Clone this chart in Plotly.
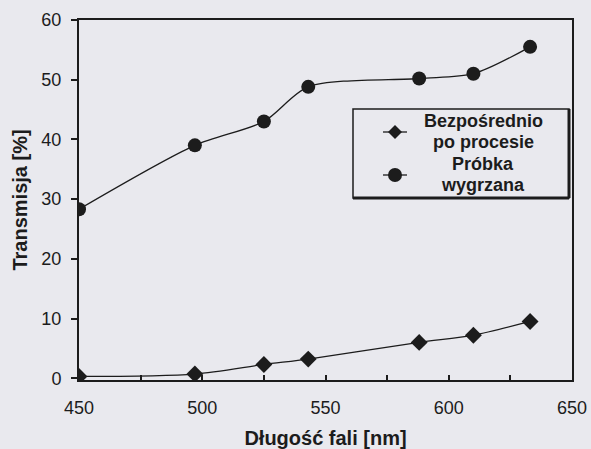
import plotly.graph_objects as go

wavelength = [450, 497, 525, 543, 588, 610, 633]
bezposrednio = [0.3, 0.7, 2.3, 3.2, 6.0, 7.2, 9.5]
wygrzana = [28.3, 39.0, 43.0, 48.8, 50.2, 51.0, 55.5]

x_ticks = [450, 500, 550, 600, 650]
y_ticks = [0, 10, 20, 30, 40, 50, 60]

legend_lines = [["Bezpośrednio", "po procesie"], ["Próbka", "wygrzana"]]

bg = "#e9e9ee"
ink = "#1c1c1c"
FONT = "Liberation Sans, Arial, sans-serif"

fig = go.Figure()
fig.add_trace(go.Scatter(
    x=wavelength, y=bezposrednio, mode="lines+markers",
    name="Bezpośrednio po procesie", showlegend=False,
    line=dict(color=ink, width=1.3, shape="spline", smoothing=0.8),
    marker=dict(symbol="diamond", size=13, color=ink),
))
fig.add_trace(go.Scatter(
    x=wavelength, y=wygrzana, mode="lines+markers",
    name="Próbka wygrzana", showlegend=False,
    line=dict(color=ink, width=1.3, shape="spline", smoothing=0.8),
    marker=dict(symbol="circle", size=14, color=ink),
))

# plot area in pixels: x 79..572, y 20..380
def px(xp):
    return (xp - 79) / 493.0

def py(yp):
    return (380 - yp) / 360.0

# ---- hand-drawn legend box (paper coordinates) ----
lx0, lx1, ly0, ly1 = px(353), px(569), py(198), py(109)
shapes = [
    dict(type="rect", xref="paper", yref="paper", x0=lx0, x1=lx1, y0=ly0, y1=ly1,
         line=dict(color=ink, width=1.5), fillcolor=bg, layer="above"),
    dict(type="line", xref="paper", yref="paper", x0=lx1, x1=lx1, y0=ly0, y1=ly1,
         line=dict(color=ink, width=3), layer="above"),
    dict(type="line", xref="paper", yref="paper", x0=lx0, x1=lx1, y0=ly0, y1=ly0,
         line=dict(color=ink, width=3), layer="above"),
]
key_x = px(395)
key_y = [py(132), py(175)]
for i, ky in enumerate(key_y):
    shapes.append(dict(type="line", xref="paper", yref="paper", xsizemode="pixel", ysizemode="pixel",
                       xanchor=key_x, yanchor=ky, x0=-12, x1=12, y0=0, y1=0,
                       line=dict(color=ink, width=1.3), layer="above"))
    if i == 0:
        shapes.append(dict(type="path", xref="paper", yref="paper", xsizemode="pixel", ysizemode="pixel",
                           xanchor=key_x, yanchor=ky, path="M -7 0 L 0 7 L 7 0 L 0 -7 Z",
                           fillcolor=ink, line=dict(color=ink, width=0), layer="above"))
    else:
        shapes.append(dict(type="circle", xref="paper", yref="paper", xsizemode="pixel", ysizemode="pixel",
                           xanchor=key_x, yanchor=ky, x0=-7, x1=7, y0=-7, y1=7,
                           fillcolor=ink, line=dict(color=ink, width=0), layer="above"))

text_x = px(483)
text_y = [[py(121), py(142)], [py(164), py(185)]]
annotations = []
for lines, ys in zip(legend_lines, text_y):
    for t, yy in zip(lines, ys):
        annotations.append(dict(text=t, xref="paper", yref="paper", x=text_x, y=yy,
                                xanchor="center", yanchor="middle", showarrow=False,
                                borderpad=0,
                                font=dict(size=18, family=FONT, color=ink, weight="bold")))

fig.update_layout(
    width=591, height=449,
    margin=dict(l=79, r=19, t=20, b=69),
    paper_bgcolor=bg, plot_bgcolor=bg,
    font=dict(family=FONT, color=ink),
    showlegend=False,
    shapes=shapes,
    annotations=annotations,
    xaxis=dict(
        range=[450, 650], tickvals=x_ticks, ticktext=[str(v) for v in x_ticks],
        ticks="inside", ticklen=5, tickwidth=1.5, tickcolor=ink,
        minor=dict(dtick=25, tick0=450, ticks="inside", ticklen=5, tickwidth=1.5, tickcolor=ink),
        showline=True, linecolor=ink, linewidth=2, mirror=True,
        showgrid=False, zeroline=False, automargin=False,
        tickfont=dict(size=18), ticklabelstandoff=10,
        title=dict(text="Długość fali [nm]", font=dict(size=20, weight="bold"), standoff=22),
    ),
    yaxis=dict(
        range=[-0.3, 60], tickvals=y_ticks,
        ticks="outside", ticklen=6, tickwidth=1.5, tickcolor=ink,
        showline=True, linecolor=ink, linewidth=2, mirror=True,
        showgrid=False, zeroline=False, automargin=False,
        tickfont=dict(size=18), ticklabelstandoff=6,
        title=dict(text="Transmisja [%]", font=dict(size=20, weight="bold"), standoff=8),
    ),
)

fig.write_html("out.html")
